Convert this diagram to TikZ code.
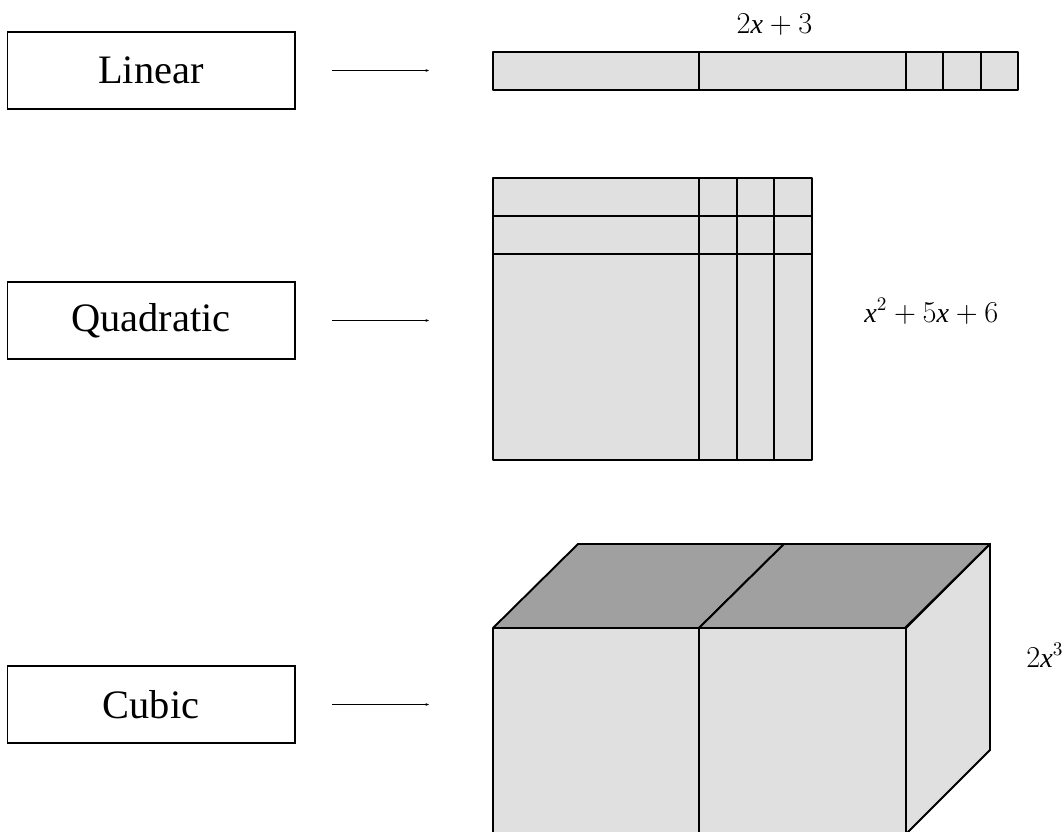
\documentclass[tikz,border=0pt]{standalone}
\usepackage{fontspec}
\setmainfont{Liberation Serif}
\usepackage[italic]{mathastext}
\usetikzlibrary{arrows.meta}
\definecolor{tilefill}{HTML}{E0E0E0}
\definecolor{topfill}{HTML}{A0A0A0}
\begin{document}
\begin{tikzpicture}[x=0.02cm, y=-0.02cm, >={Stealth[length=2pt,width=1.6pt]},
	kindbox/.style={draw, line width=0.6pt, minimum width=5.76cm, minimum height=1.54cm, inner sep=0pt, font=\fontsize{23}{27}\selectfont},
	conn/.style={->, line width=0.65pt, shorten <=0.74cm},
	tile/.style={draw, line width=1.1pt, line join=round, fill=tilefill},
	poly/.style={inner sep=0pt, font=\fontsize{16}{19}\selectfont}]
		\useasboundingbox (0,0) rectangle (1064,831);
		\clip (0,0) rectangle (1064,831);
		\foreach \name/\txt/\y in {linear/Linear/70.5, quadratic/Quadratic/320.5, cubic/Cubic/704.5}{
			\node[kindbox] (\name) at (151,\y) {\txt};
			\coordinate (\name tip) at (429,\y);
			\draw[conn] (\name.east) -- (\name tip);
		}
		% bar
		\foreach \a/\b in {493/699,699/906,906/943,943/981,981/1018}{
			\draw[tile] (\a,52) rectangle (\b,90);
		}
		% square
		\foreach \a/\b in {493/699,699/737,737/774,774/812}{
			\foreach \c/\d in {178/216,216/254,254/460}{
				\draw[tile] (\a,\c) rectangle (\b,\d);
			}
		}
		% cube
		\fill[tilefill] (493,628) rectangle (906,850);
		\fill[tilefill] (906,628) -- (990,544) -- (990,750) -- (890,850) -- (906,850) -- cycle;
		\foreach \s in {0,206}{
			\draw[tile, fill=topfill] (\s+493,628) -- (\s+578,544) -- (\s+784,544) -- (\s+699,628) -- cycle;
		}
		\draw[line width=1.1pt, line join=round] (906,628) -- (990,544) -- (990,750) -- (890,850);
		\draw[line width=1.1pt] (493,628) -- (493,850);
		\draw[line width=0.95pt] (699,628) -- (699,850);
		\draw[line width=0.6pt] (906,628) -- (906,850);
		\draw[line width=1.1pt] (493,628) -- (906,628);
		\node[poly, anchor=base] (linpoly) at (774.5,33.5) {$2x+3$};
		\node[poly, anchor=base west] (quadpoly) at (864,322) {$x^{\scriptscriptstyle 2}+5x+6$};
		\node[poly, anchor=base west] (cubpoly) at (1026,667) {$2x^{\scriptscriptstyle 3}$};
	\end{tikzpicture}
\end{document}
